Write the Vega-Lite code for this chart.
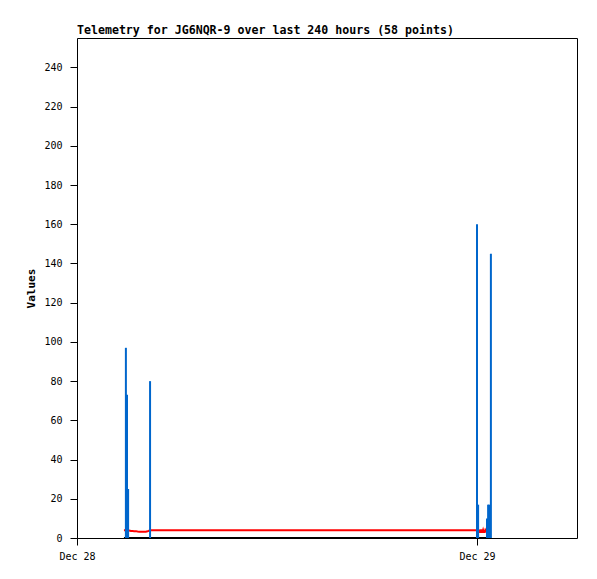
{
  "$schema": "https://vega.github.io/schema/vega-lite/v6.json",
  "width": 500,
  "height": 500,
  "autosize": {"type": "none"},
  "padding": {"left": 77, "top": 38, "right": 20, "bottom": 41},
  "background": "white",
  "config": {"view": {"stroke": "black", "strokeWidth": 1}, "font": "DejaVu Sans Mono"},
  "title": {"text": "Telemetry for JG6NQR-9 over last 240 hours (58 points)", "anchor": "start", "frame": "group", "font": "DejaVu Sans Mono", "fontSize": 11.6, "fontWeight": "bold", "color": "black", "offset": 1},
  "data": {"values": [
    {"t": "2024-12-28T02:49:00", "b": 0, "r": 4.0, "c": 0},
    {"t": "2024-12-28T02:52:00", "b": 0, "r": 4.0, "c": 0},
    {"t": "2024-12-28T02:56:00", "b": 97, "r": 4.0, "c": 0},
    {"t": "2024-12-28T03:00:00", "b": 73, "r": 4.0, "c": 0},
    {"t": "2024-12-28T03:04:00", "b": 25, "r": 4.0, "c": 0},
    {"t": "2024-12-28T03:08:00", "b": 0, "r": 3.8, "c": 0},
    {"t": "2024-12-28T03:14:00", "b": 0, "r": 3.6, "c": 0},
    {"t": "2024-12-28T03:20:00", "b": 0, "r": 3.6, "c": 0},
    {"t": "2024-12-28T03:26:00", "b": 0, "r": 3.5, "c": 0},
    {"t": "2024-12-28T03:32:00", "b": 0, "r": 3.5, "c": 0},
    {"t": "2024-12-28T03:38:00", "b": 0, "r": 3.3, "c": 0},
    {"t": "2024-12-28T03:44:00", "b": 0, "r": 3.2, "c": 0},
    {"t": "2024-12-28T03:50:00", "b": 0, "r": 3.2, "c": 0},
    {"t": "2024-12-28T03:56:00", "b": 0, "r": 3.2, "c": 0},
    {"t": "2024-12-28T04:02:00", "b": 0, "r": 3.2, "c": 0},
    {"t": "2024-12-28T04:08:00", "b": 0, "r": 3.2, "c": 0},
    {"t": "2024-12-28T04:14:00", "b": 0, "r": 3.4, "c": 0},
    {"t": "2024-12-28T04:18:00", "b": 0, "r": 3.6, "c": 0},
    {"t": "2024-12-28T04:23:00", "b": 80, "r": 4.0, "c": 0},
    {"t": "2024-12-28T04:28:00", "b": 0, "r": 4.0, "c": 0},
    {"t": "2024-12-28T04:35:00", "b": 0, "r": 4.0, "c": 0},
    {"t": "2024-12-28T04:50:00", "b": 0, "r": 4.0, "c": 0},
    {"t": "2024-12-28T05:10:00", "b": 0, "r": 4.0, "c": 0},
    {"t": "2024-12-28T06:40:00", "b": 0, "r": 4.0, "c": 0},
    {"t": "2024-12-28T08:40:00", "b": 0, "r": 4.0, "c": 0},
    {"t": "2024-12-28T10:40:00", "b": 0, "r": 4.0, "c": 0},
    {"t": "2024-12-28T12:40:00", "b": 0, "r": 4.0, "c": 0},
    {"t": "2024-12-28T14:40:00", "b": 0, "r": 4.0, "c": 0},
    {"t": "2024-12-28T16:40:00", "b": 0, "r": 4.0, "c": 0},
    {"t": "2024-12-28T18:40:00", "b": 0, "r": 4.0, "c": 0},
    {"t": "2024-12-28T20:40:00", "b": 0, "r": 4.0, "c": 0},
    {"t": "2024-12-28T22:40:00", "b": 0, "r": 4.0, "c": 0},
    {"t": "2024-12-28T23:40:00", "b": 0, "r": 4.0, "c": 0},
    {"t": "2024-12-28T23:55:00", "b": 0, "r": 4.0, "c": 0},
    {"t": "2024-12-29T00:00:00", "b": 160, "r": 4.0, "c": 0},
    {"t": "2024-12-29T00:04:00", "b": 17, "r": 4.0, "c": 0},
    {"t": "2024-12-29T00:07:00", "b": 0, "r": 4.0, "c": 0},
    {"t": "2024-12-29T00:10:00", "b": 0, "r": 3.0, "c": 0},
    {"t": "2024-12-29T00:12:00", "b": 0, "r": 3.0, "c": 0},
    {"t": "2024-12-29T00:14:00", "b": 0, "r": 4.0, "c": 0},
    {"t": "2024-12-29T00:16:00", "b": 0, "r": 4.0, "c": 0},
    {"t": "2024-12-29T00:18:00", "b": 0, "r": 3.0, "c": 0},
    {"t": "2024-12-29T00:20:00", "b": 0, "r": 3.0, "c": 0},
    {"t": "2024-12-29T00:22:00", "b": 0, "r": 4.0, "c": 0},
    {"t": "2024-12-29T00:24:00", "b": 0, "r": 3.0, "c": 0},
    {"t": "2024-12-29T00:26:00", "b": 0, "r": 3.0, "c": 0},
    {"t": "2024-12-29T00:28:00", "b": 0, "r": 3.0, "c": 0},
    {"t": "2024-12-29T00:30:00", "b": 0, "r": 4.0, "c": 0},
    {"t": "2024-12-29T00:32:00", "b": 0, "r": 3.5, "c": 0},
    {"t": "2024-12-29T00:34:00", "b": 0, "r": 3.5, "c": 0},
    {"t": "2024-12-29T00:36:00", "b": 10, "r": 4.0, "c": 0},
    {"t": "2024-12-29T00:38:00", "b": 0, "r": 4.0, "c": 0},
    {"t": "2024-12-29T00:40:00", "b": 17, "r": 4.0, "c": 0},
    {"t": "2024-12-29T00:42:00", "b": 0, "r": 4.0, "c": 0},
    {"t": "2024-12-29T00:44:00", "b": 17, "r": 4.0, "c": 0},
    {"t": "2024-12-29T00:46:00", "b": 0, "r": 4.0, "c": 0},
    {"t": "2024-12-29T00:48:00", "b": 0, "r": 4.0, "c": 0},
    {"t": "2024-12-29T00:50:00", "b": 145, "r": 4.0, "c": 0}
  ]},
  "encoding": {
    "x": {
      "field": "t", "type": "temporal", "title": null,
      "scale": {"domain": [{"year": 2024, "month": 12, "date": 28}, {"year": 2024, "month": 12, "date": 29, "hours": 6}]},
      "axis": {
        "values": [{"year": 2024, "month": 12, "date": 28}, {"year": 2024, "month": 12, "date": 29}],
        "format": "%b %d", "grid": false, "domain": false, "labelFlush": false, "labelAlign": "center",
        "tickSize": 7, "tickColor": "black", "labelPadding": 6,
        "labelFont": "DejaVu Sans Mono", "labelFontSize": 10, "labelColor": "black"
      }
    }
  },
  "layer": [
    {
      "mark": {"type": "line", "color": "#ff0000", "strokeWidth": 2},
      "encoding": {
        "y": {
          "field": "r", "type": "quantitative", "title": "Values",
          "scale": {"domain": [0, 255], "nice": false},
          "axis": {
            "values": [0, 20, 40, 60, 80, 100, 120, 140, 160, 180, 200, 220, 240],
            "grid": false, "domain": false, "tickSize": 7, "tickColor": "black",
            "labelPadding": 8, "labelFont": "DejaVu Sans Mono", "labelFontSize": 10, "labelColor": "black",
            "titleFont": "DejaVu Sans Mono", "titleFontSize": 11, "titleFontWeight": "bold", "titleColor": "black", "titlePadding": 7
          }
        }
      }
    },
    {
      "mark": {"type": "line", "color": "black", "strokeWidth": 2},
      "encoding": {"y": {"field": "c", "type": "quantitative"}}
    },
    {
      "transform": [{"filter": "datum.b > 0"}],
      "mark": {"type": "rule", "color": "#0066cc", "strokeWidth": 2},
      "encoding": {"y": {"field": "b", "type": "quantitative"}, "y2": {"datum": 0}}
    }
  ]
}
